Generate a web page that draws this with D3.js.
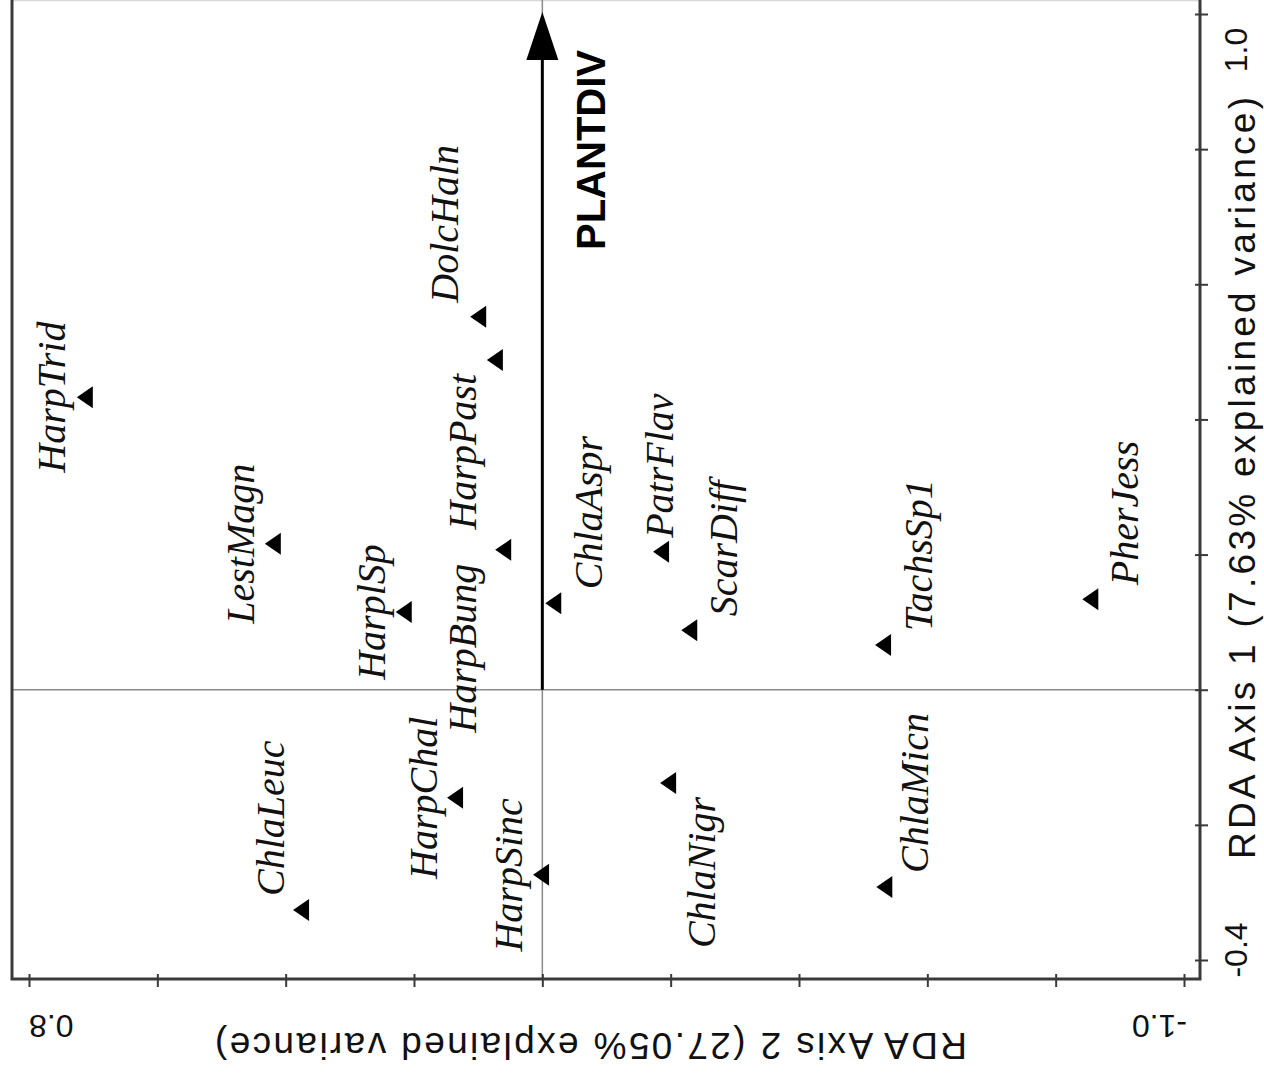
<!DOCTYPE html>
<html>
<head>
<meta charset="utf-8">
<script src="https://cdn.jsdelivr.net/npm/d3@7/dist/d3.min.js"></script>
<style>
  html, body { margin: 0; padding: 0; background: #fff; }
  svg { display: block; }
</style>
</head>
<body>
<div id="chart"></div>
<script>
// species scores (RDA axis 1 = vertical, axis 2 = horizontal, reversed)
const species = ['HarpTrid', 'LestMagn', 'HarplSp', 'HarpPast', 'HarpBung', 'DolcHaln',
  'ChlaAspr', 'PatrFlav', 'ScarDiff', 'TachsSp1', 'PherJess',
  'ChlaLeuc', 'HarpChal', 'HarpSinc', 'ChlaNigr', 'ChlaMicn'];
const axis1Scores = [0.433, 0.216, 0.115, 0.488, 0.207, 0.552,
  0.128, 0.204, 0.088, 0.066, 0.134,
  -0.326, -0.160, -0.274, -0.138, -0.292];
const axis2Scores = [0.713, 0.420, 0.216, 0.074, 0.061, 0.100,
  -0.017, -0.185, -0.229, -0.531, -0.854,
  0.376, 0.136, 0.002, -0.196, -0.533];

// environmental variable (arrow)
const envVars = ['PLANTDIV'];
const envAxis1 = [1.0];
const envAxis2 = [0.0];

// axes
const axis1Ticks = [-0.4, -0.2, 0, 0.2, 0.4, 0.6, 0.8, 1.0];
const axis2Ticks = [0.8, 0.6, 0.4, 0.2, 0, -0.2, -0.4, -0.6, -0.8, -1.0];
const axis1TickLabels = ['-0.4', '1.0'];
const axis2TickLabels = ['0.8', '-1.0'];
const axis1Title = 'RDA Axis 1 (7.63% explained variance)';
const axis2Title = 'RDA Axis 2 (27.05% explained variance)';

// label placement: [baseline offset in x, side relative to the marker]
const labelPlace = {
  HarpTrid: [-20, 'mid'], LestMagn: [-19, 'mid'], HarplSp: [-19, 'mid'],
  HarpPast: [-19, 'down'], HarpBung: [-27, 'down'], DolcHaln: [-20, 'up'],
  ChlaAspr: [49, 'up'], PatrFlav: [12, 'up'], ScarDiff: [48, 'up'],
  TachsSp1: [49, 'up'], PherJess: [48, 'up'], ChlaLeuc: [-17, 'up'],
  HarpChal: [-18, 'mid'], HarpSinc: [-19, 'mid'], ChlaNigr: [47, 'down'],
  ChlaMicn: [44, 'up']
};

const width = 1264, height = 1078;
const frame = { left: 12, top: 0, right: 1200, bottom: 979 };
const axisColor = '#3a3a3a';
const sansFont = 'Liberation Sans, Arial, sans-serif';
const serifFont = 'Liberation Serif, Times New Roman, serif';

const x = d3.scaleLinear().domain([0.8, -1.0]).range([29, 1184]);
const y = d3.scaleLinear().domain([-0.4, 1.0]).range([960, 14]);

const svg = d3.select('#chart')
  .append('svg')
  .attr('width', width)
  .attr('height', height)
  .style('background-color', '#fff');

// light top edge
svg.append('line')
  .attr('x1', frame.left).attr('x2', frame.right)
  .attr('y1', 0.5).attr('y2', 0.5)
  .style('stroke', '#d8d8d8')
  .style('stroke-width', 1.5);

// zero lines
svg.append('line')
  .attr('x1', frame.left).attr('x2', frame.right)
  .attr('y1', y(0)).attr('y2', y(0))
  .style('stroke', '#8a8a8a')
  .style('stroke-width', 1.5);

svg.append('line')
  .attr('x1', x(0)).attr('x2', x(0))
  .attr('y1', frame.top).attr('y2', frame.bottom)
  .style('stroke', '#8a8a8a')
  .style('stroke-width', 1.5);

// frame (left, bottom, right)
svg.append('path')
  .attr('d', `M${frame.left},${frame.top}V${frame.bottom}H${frame.right}V${frame.top}`)
  .style('fill', 'none')
  .style('stroke', axisColor)
  .style('stroke-width', 3);

// right axis (RDA axis 1)
const rightAxis = svg.append('g')
  .attr('transform', `translate(${frame.right},0)`)
  .call(d3.axisRight(y).tickValues(axis1Ticks).tickSize(8).tickSizeOuter(0).tickFormat(''));
rightAxis.select('.domain').remove();
rightAxis.selectAll('.tick line')
  .attr('x1', -5)
  .style('stroke', axisColor)
  .style('stroke-width', 2);

// bottom axis (RDA axis 2)
const bottomAxis = svg.append('g')
  .attr('transform', `translate(0,${frame.bottom})`)
  .call(d3.axisBottom(x).tickValues(axis2Ticks).tickSize(8).tickSizeOuter(0).tickFormat(''));
bottomAxis.select('.domain').remove();
bottomAxis.selectAll('.tick line')
  .attr('y1', -5)
  .style('stroke', axisColor)
  .style('stroke-width', 2);

// tick labels, rotated like the source figure
const rightTickPos = [y(-0.4) - 10, y(1.0) + 36];
svg.selectAll('.rlabel')
  .data(axis1TickLabels)
  .enter()
  .append('text')
  .attr('class', 'rlabel')
  .attr('transform', (d, i) => `translate(1247,${rightTickPos[i]}) rotate(-90)`)
  .style('text-anchor', 'middle')
  .style('font-family', sansFont)
  .style('font-size', '32px')
  .style('fill', '#111')
  .text(d => d);

const bottomTickPos = [[x(0.8), 'end'], [x(-1.0) + 3, 'start']];
svg.selectAll('.blabel')
  .data(axis2TickLabels)
  .enter()
  .append('text')
  .attr('class', 'blabel')
  .attr('transform', (d, i) => `translate(${bottomTickPos[i][0]},1015) rotate(180)`)
  .style('text-anchor', (d, i) => bottomTickPos[i][1])
  .style('font-family', sansFont)
  .style('font-size', '32px')
  .style('fill', '#111')
  .text(d => d);

// axis titles (length pinned to the source)
svg.append('text')
  .attr('transform', 'translate(1255,478) rotate(-90)')
  .attr('textLength', 762)
  .attr('lengthAdjust', 'spacing')
  .style('text-anchor', 'middle')
  .style('font-family', sansFont)
  .style('font-size', '37px')
  .style('fill', '#111')
  .text(axis1Title);

svg.append('text')
  .attr('transform', 'translate(591,1033) rotate(180)')
  .attr('textLength', 752)
  .attr('lengthAdjust', 'spacing')
  .style('text-anchor', 'middle')
  .style('font-family', sansFont)
  .style('font-size', '37px')
  .style('fill', '#111')
  .text(axis2Title);

// environmental arrow
const headLen = 46, headHalf = 16;
envVars.forEach((name, i) => {
  const x0 = x(0), y0 = y(0);
  const x1 = x(envAxis2[i]), y1 = y(envAxis1[i]);
  svg.append('line')
    .attr('x1', x0).attr('y1', y0)
    .attr('x2', x1).attr('y2', y1 + headLen - 2)
    .style('stroke', '#000')
    .style('stroke-width', 3);
  svg.append('path')
    .attr('d', `M${x1},${y1 - 2}L${x1 - headHalf},${y1 + headLen}L${x1 + headHalf},${y1 + headLen}Z`)
    .style('fill', '#000');
  svg.append('text')
    .attr('transform', `translate(${x1 + 63},${y1 + 36}) rotate(-90)`)
    .style('text-anchor', 'end')
    .style('font-family', sansFont)
    .style('font-weight', 'bold')
    .style('font-size', '40px')
    .style('fill', '#000')
    .text(name);
});

// species markers and labels
const points = species.map((name, i) => ({ name, a1: axis1Scores[i], a2: axis2Scores[i] }));

svg.selectAll('.marker')
  .data(points)
  .enter()
  .append('path')
  .attr('class', 'marker')
  .attr('d', 'M-8,0L8,-11L8,11Z')
  .attr('transform', d => `translate(${x(d.a2)},${y(d.a1)})`)
  .style('fill', '#000');

const gap = 14;
svg.selectAll('.species')
  .data(points)
  .enter()
  .append('text')
  .attr('class', 'species')
  .attr('transform', d => {
    const [dx, side] = labelPlace[d.name];
    const py = y(d.a1);
    const ly = side === 'up' ? py - gap : side === 'down' ? py + gap : py;
    return `translate(${x(d.a2) + dx},${ly}) rotate(-90)`;
  })
  .style('text-anchor', d => {
    const side = labelPlace[d.name][1];
    return side === 'up' ? 'start' : side === 'down' ? 'end' : 'middle';
  })
  .style('font-family', serifFont)
  .style('font-style', 'italic')
  .style('font-size', '40px')
  .style('fill', '#111')
  .text(d => d.name);
</script>
</body>
</html>
